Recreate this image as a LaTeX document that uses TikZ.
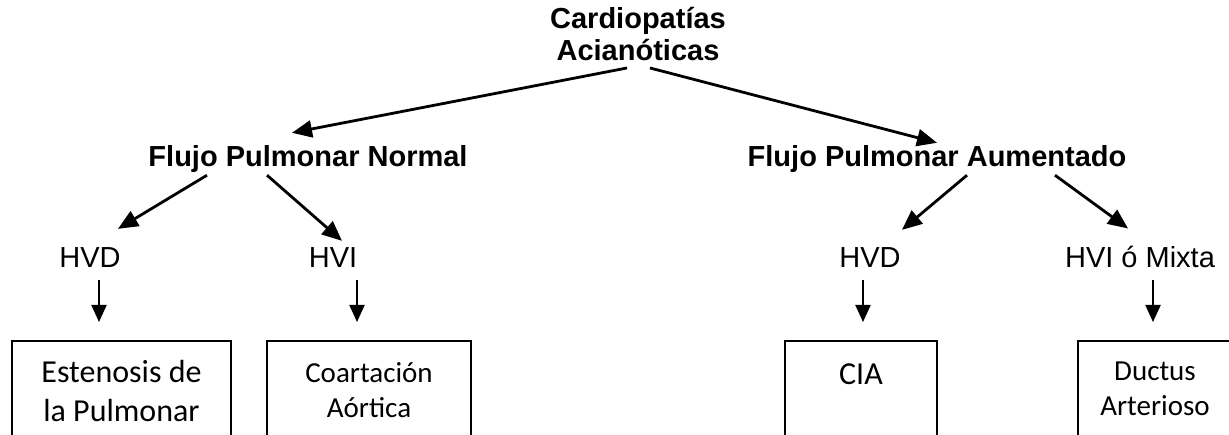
\documentclass[tikz,border=0pt]{standalone}
\usepackage{fontspec}
\setmainfont{Liberation Sans}
\newfontfamily\calib{Carlito}
\usetikzlibrary{arrows.meta}

\tikzset{
  titulo/.style={font=\bfseries\fontsize{29}{32}\selectfont, inner sep=0pt, align=center},
  hv/.style={font=\fontsize{29}{31}\selectfont, inner sep=0pt, anchor=base},
  caja/.style={draw, line width=2pt, minimum height=130pt, anchor=north, inner sep=0pt},
  txtgrande/.style={font=\calib\fontsize{32}{39}\selectfont, inner sep=0pt, align=center, anchor=north},
  txtchico/.style={font=\calib\fontsize{29}{35}\selectfont, inner sep=0pt, align=center, anchor=north},
  flecha/.style={line width=2.8pt, -{Triangle[length=20pt,width=17pt]}},
  flechab/.style={line width=2pt, -{Triangle[length=17pt,width=15pt]}}
}

\begin{document}
\begin{tikzpicture}[x=1pt,y=-1pt]
  \useasboundingbox (0,0) rectangle (1229,435);
  \clip (0,0) rectangle (1229,435);
  % niveles del arbol
  \node[titulo] (cardio) at (638,34) {Cardiopatías\\Acianóticas};
  \node[titulo, anchor=base] (normal) at (308,167) {Flujo Pulmonar Normal};
  \node[titulo, anchor=base] (aument) at (937,167) {Flujo Pulmonar Aumentado};
  \node[hv] (hvdN) at (90,268) {HVD};
  \node[hv] (hviN) at (333,268) {HVI};
  \node[hv] (hvdA) at (870,268) {HVD};
  \node[hv] (hvmA) at (1140,268) {HVI ó Mixta};
  % cajas (abiertas por abajo)
  \node[caja, minimum width=219pt] (estenosis) at (121.5,340) {};
  \node[caja, minimum width=204pt] (coart) at (369,340) {};
  \node[caja, minimum width=152pt] (cia) at (861,340) {};
  \node[caja, minimum width=154pt] (ductus) at (1155,340) {};
  \node[txtgrande] (estenosisT) at (121.5,360) {Estenosis de\\la Pulmonar};
  \node[txtchico] (coartT) at (369,362) {Coartación\\Aórtica};
  \node[txtgrande, anchor=base] (ciaT) at (861,385) {CIA};
  \node[txtchico] (ductusT) at (1155,362) {Ductus\\Arterioso};
  % flechas
  \draw[flecha] ([xshift=-11pt,yshift=-7pt]cardio.south) -- ([xshift=-16pt,yshift=13pt]normal.north);
  \draw[flecha] ([xshift=12pt,yshift=-7pt]cardio.south) -- ([yshift=3pt]aument.north);
  \draw[flecha] ([xshift=-101pt,yshift=-2pt]normal.south) -- ([xshift=28pt,yshift=19pt]hvdN.north);
  \draw[flecha] ([xshift=-41pt,yshift=-2pt]normal.south) -- ([xshift=9pt,yshift=7pt]hviN.north);
  \draw[flecha] ([xshift=30pt,yshift=-2pt]aument.south) -- ([xshift=32pt,yshift=18pt]hvdA.north);
  \draw[flecha] ([xshift=118pt,yshift=-2pt]aument.south) -- ([xshift=-12pt,yshift=18pt]hvmA.north);
  \draw[flechab] ([xshift=9pt,yshift=-12pt]hvdN.south) -- ([xshift=-22.5pt,yshift=18pt]estenosis.north);
  \draw[flechab] ([xshift=24pt,yshift=-12pt]hviN.south) -- ([xshift=-12pt,yshift=18pt]coart.north);
  \draw[flechab] ([xshift=-7pt,yshift=-12pt]hvdA.south) -- ([xshift=2pt,yshift=18pt]cia.north);
  \draw[flechab] ([xshift=13pt,yshift=-12pt]hvmA.south) -- ([xshift=-2pt,yshift=18pt]ductus.north);
\end{tikzpicture}
\end{document}
